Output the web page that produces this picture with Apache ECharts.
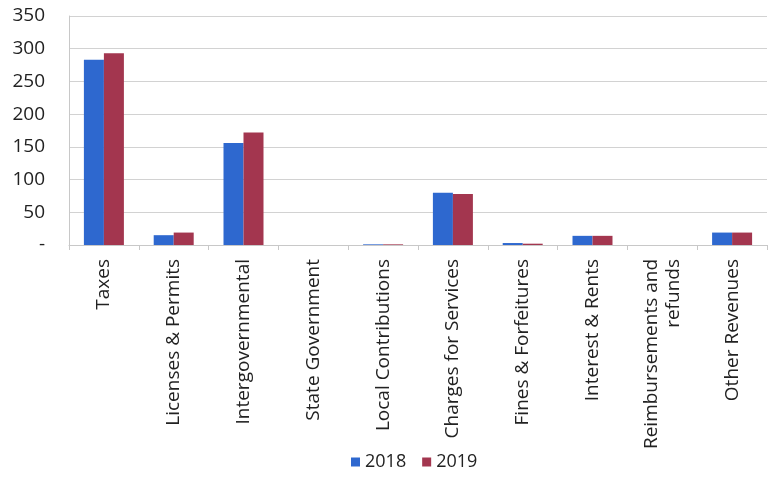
<!DOCTYPE html>
<html><head><meta charset="utf-8">
<script src="https://cdn.jsdelivr.net/npm/echarts@6/dist/echarts.min.js"></script>
<style>html,body{margin:0;padding:0;background:#fff}#c{width:768px;height:477px}</style>
</head><body><div id="c"></div>
<script>
const categories = ["Taxes","Licenses & Permits","Intergovernmental","State Government","Local Contributions","Charges for Services","Fines & Forfeitures","Interest & Rents","Reimbursements and\nrefunds","Other Revenues"];
const values2018 = [283, 15, 156, 0, 1, 80, 3, 14, 0, 19];
const values2019 = [293, 19, 172, 0, 1, 78, 2, 14, 0, 19];
const seriesNames = ["2018", "2019"];
const yTicks = [0, 50, 100, 150, 200, 250, 300, 350];

const font = "Open Sans";
const chart = echarts.init(document.getElementById('c'));
chart.setOption({
  animation: false,
  backgroundColor: '#fff',
  grid: {left: 69, right: 1, top: 16, bottom: 232},
  legend: {
    data: seriesNames, bottom: 1, left: 346, itemWidth: 9, itemHeight: 9, itemGap: 16,
    icon: 'rect', textStyle: {fontFamily: font, fontSize: 18, color: '#222'}
  },
  xAxis: {
    type: 'category', data: categories,
    axisLine: {lineStyle: {color: '#c8c8c8'}},
    axisTick: {show: true, length: 5, lineStyle: {color: '#c8c8c8'}},
    axisLabel: {rotate: 90, interval: 0, margin: 14, fontFamily: font, fontSize: 19, color: '#222', lineHeight: 22}
  },
  yAxis: {
    type: 'value', min: yTicks[0], max: yTicks[yTicks.length-1], interval: 50,
    axisLine: {show: true, lineStyle: {color: '#c8c8c8'}},
    axisTick: {show: false},
    splitLine: {lineStyle: {color: '#d2d2d2'}},
    axisLabel: {margin: 24, fontFamily: font, fontSize: 19, color: '#222',
      formatter: v => v === 0 ? '-' : String(v)}
  },
  series: [
    {name: seriesNames[0], type: 'bar', data: values2018, barWidth: 20, barGap: '0%', itemStyle: {color: '#2e68cf'}},
    {name: seriesNames[1], type: 'bar', data: values2019, barWidth: 20, barGap: '0%', itemStyle: {color: '#a3364f'}}
  ]
});
</script></body></html>
